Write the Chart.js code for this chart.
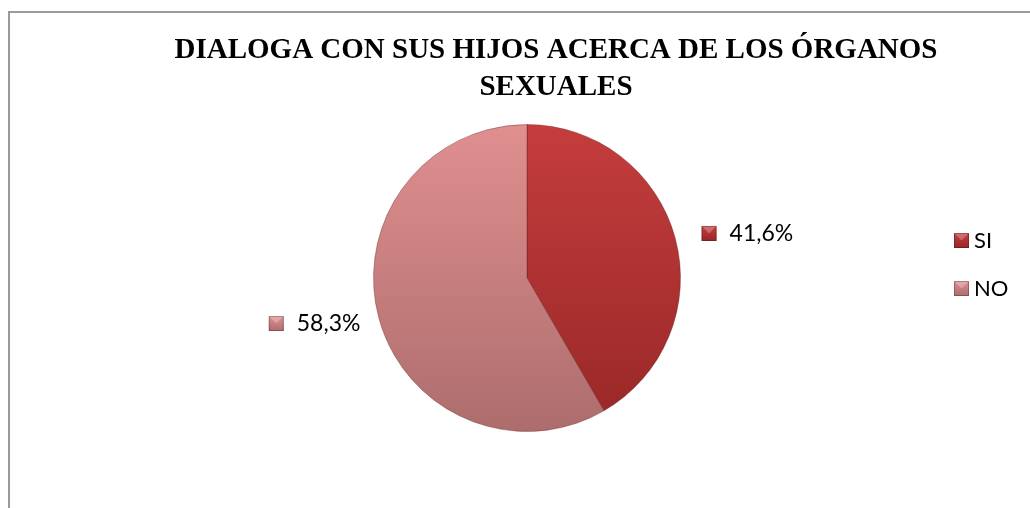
<!DOCTYPE html>
<html>
<head>
<meta charset="utf-8">
<script src="https://cdn.jsdelivr.net/npm/chart.js@4/dist/chart.umd.min.js"></script>
<style>
    html, body { margin: 0; padding: 0; background: #ffffff; }
    #wrap { position: relative; width: 1030px; height: 508px; overflow: hidden; }
    #frame {
        position: absolute; left: 8px; top: 11px; width: 1040px; height: 520px;
        border-top: 2px solid #9a9a9a; border-left: 2px solid #9a9a9a;
    }
    canvas { position: absolute; left: 0; top: 0; }
</style>
</head>
<body>
<div id="wrap">
    <div id="frame"></div>
    <canvas id="pieChart" width="1030" height="508"></canvas>
</div>
<script>
const titleLines = ["DIALOGA CON SUS HIJOS ACERCA DE LOS ÓRGANOS", "SEXUALES"];
const categories = ["SI", "NO"];
const values = [41.6, 58.3];
const valueLabels = ["41,6%", "58,3%"];

// colors: top and bottom of the vertical gradient for each slice
const topColors = ["#c53d3d", "#e08f8f"];
const bottomColors = ["#982727", "#ad6d6d"];

function sliceFill(context) {
    const chart = context.chart;
    const area = chart.chartArea;
    if (!area) {
        return topColors[context.dataIndex];
    }
    const g = chart.ctx.createLinearGradient(0, area.top, 0, area.bottom);
    g.addColorStop(0, topColors[context.dataIndex]);
    g.addColorStop(1, bottomColors[context.dataIndex]);
    return g;
}

function drawMarker(ctx, x, y, size, i) {
    const g = ctx.createLinearGradient(0, y, 0, y + size);
    g.addColorStop(0, topColors[i]);
    g.addColorStop(1, bottomColors[i]);
    ctx.fillStyle = g;
    ctx.fillRect(x, y, size, size);
    // small bevel on the top half
    ctx.fillStyle = "rgba(255,255,255,0.25)";
    ctx.beginPath();
    ctx.moveTo(x, y);
    ctx.lineTo(x + size, y);
    ctx.lineTo(x + size / 2, y + size / 2);
    ctx.closePath();
    ctx.fill();
    ctx.strokeStyle = "rgba(0,0,0,0.25)";
    ctx.lineWidth = 1;
    ctx.strokeRect(x + 0.5, y + 0.5, size - 1, size - 1);
}

const textPlugin = {
    id: "textPlugin",
    afterDraw: function (chart) {
        const ctx = chart.ctx;
        ctx.save();

        // title
        ctx.fillStyle = "#000000";
        ctx.font = "bold 29px 'Liberation Serif', 'Times New Roman', serif";
        ctx.textAlign = "center";
        ctx.textBaseline = "alphabetic";
        ctx.fillText(titleLines[0], 556, 58);
        ctx.fillText(titleLines[1], 556, 95);

        // value labels outside the slices
        const arcs = chart.getDatasetMeta(0).data;
        ctx.font = "23px Lato, 'Open Sans', sans-serif";
        ctx.textBaseline = "middle";
        arcs.forEach(function (arc, i) {
            const mid = (arc.startAngle + arc.endAngle) / 2;
            const r = arc.outerRadius + 20;
            const px = arc.x + Math.cos(mid) * r;
            const py = arc.y + Math.sin(mid) * r;
            const tw = ctx.measureText(valueLabels[i]).width;
            let markerX;
            let textX;
            if (Math.cos(mid) >= 0) {
                markerX = px + 7;
                textX = markerX + 28;
            } else {
                textX = px + 1 - tw;
                markerX = textX - 28;
            }
            drawMarker(ctx, markerX, py - 7, 15, i);
            ctx.fillStyle = "#000000";
            ctx.textAlign = "left";
            ctx.fillText(valueLabels[i], textX, py + 1);
        });

        // legend
        ctx.font = "22px Lato, 'Open Sans', sans-serif";
        categories.forEach(function (name, i) {
            const y = 240 + i * 48;
            drawMarker(ctx, 954, y - 7, 15, i);
            ctx.fillStyle = "#000000";
            ctx.textAlign = "left";
            ctx.fillText(name, 974, y + 1);
        });

        ctx.restore();
    },
};

new Chart(document.getElementById("pieChart"), {
    type: "pie",
    data: {
        labels: categories,
        datasets: [
            {
                data: values,
                backgroundColor: sliceFill,
                borderColor: "rgba(90,20,20,0.35)",
                borderWidth: 1,
            },
        ],
    },
    options: {
        responsive: false,
        animation: false,
        layout: {
            padding: { top: 124, bottom: 76, left: 24, right: 0 },
        },
        plugins: {
            legend: { display: false },
            tooltip: { enabled: false },
            title: { display: false },
        },
    },
    plugins: [textPlugin],
});
</script>
</body>
</html>
